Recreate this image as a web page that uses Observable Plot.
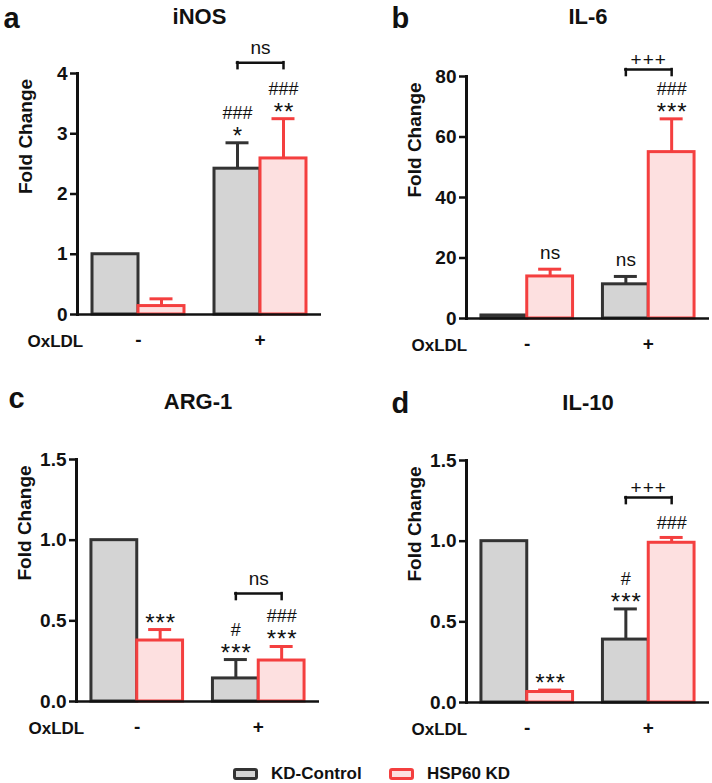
<!DOCTYPE html>
<html>
<head>
<meta charset="utf-8">
<script src="https://cdn.jsdelivr.net/npm/d3@7"></script>
<script src="https://cdn.jsdelivr.net/npm/@observablehq/plot@0.6"></script>
<style>
  body { margin: 0; background: #fff; font-family: "Liberation Sans", Arial, sans-serif; }
  #fig { position: relative; width: 712px; height: 783px; overflow: hidden; background: #fff; }
  #fig svg { position: absolute; overflow: visible; }
  .legend-item { position: absolute; display: flex; align-items: center; height: 16px; font: bold 17px "Liberation Sans", Arial, sans-serif; color: #111; white-space: nowrap; }
  .swatch { box-sizing: border-box; width: 25px; height: 12px; border: 3px solid; border-radius: 3px; margin-right: 13px; }
</style>
</head>
<body>
<div id="fig"></div>
<script>
// ---------- data ----------
const groups = ["-", "+"];                  // OxLDL treatment
const series = ["KD-Control", "HSP60 KD"];
const panelLetters = ["a", "b", "c", "d"];
const genes = ["iNOS", "IL-6", "ARG-1", "IL-10"];
const xAxisTitle = "OxLDL";
const yAxisTitle = "Fold Change";

const yMax = [4, 80, 1.5, 1.5];
const yTicks = [[0, 1, 2, 3, 4], [0, 20, 40, 60, 80], [0, 0.5, 1, 1.5], [0, 0.5, 1, 1.5]];
const yTickLabels = [["0", "1", "2", "3", "4"], ["0", "20", "40", "60", "80"], ["0.0", "0.5", "1.0", "1.5"], ["0.0", "0.5", "1.0", "1.5"]];

// means and error (SEM) per OxLDL group ["-", "+"]
const inosControl = [1.00, 2.42],  inosControlErr = [0, 0.43];
const inosKD      = [0.14, 2.59],  inosKDErr      = [0.12, 0.66];
const il6Control  = [1.0, 11.3],   il6ControlErr  = [0, 2.6];
const il6KD       = [13.9, 55.0],  il6KDErr       = [2.4, 11.0];
const arg1Control = [1.00, 0.143], arg1ControlErr = [0, 0.117];
const arg1KD      = [0.378, 0.254],arg1KDErr      = [0.068, 0.087];
const il10Control = [1.00, 0.39],  il10ControlErr = [0, 0.19];
const il10KD      = [0.065, 0.99], il10KDErr      = [0.012, 0.033];

// significance marks per bar, order: [- control, - KD, + control, + KD]; lines listed bottom to top
const inosNotes = [[], [], ["*", "###"], ["**", "###"]];
const il6Notes  = [[], ["ns"], ["ns"], ["***", "###"]];
const arg1Notes = [[], ["***"], ["***", "#"], ["***", "###"]];
const il10Notes = [[], ["***"], ["***", "#"], ["###"]];

// comparison bracket between the two bars of the "+" group
const bracketGroup = ["+", "+", "+", "+"];
const bracketLabel = ["ns", "+++", "ns", "+++"];
const bracketLevel = [4.18, 82.3, 0.669, 1.27];

const controlMeans = [inosControl, il6Control, arg1Control, il10Control];
const controlErrs  = [inosControlErr, il6ControlErr, arg1ControlErr, il10ControlErr];
const kdMeans = [inosKD, il6KD, arg1KD, il10KD];
const kdErrs  = [inosKDErr, il6KDErr, arg1KDErr, il10KDErr];
const notes = [inosNotes, il6Notes, arg1Notes, il10Notes];

// ---------- styles / layout ----------
const fills   = ["#d4d4d4", "#fde0e0"];
const strokes = ["#333333", "#f43f3f"];
const ink = "#111";
const PI = 0.246, PO = 0.123;
const FONT = "Liberation Sans, Arial, Helvetica, sans-serif";
const layout = [
  {left: 0,   top: 0,   width: 356, height: 360, ml: 77,  mr: 35, mt: 73,  mb: 46, letter: [3, 27],   titleBase: 23,  oxDx: -50},
  {left: 356, top: 0,   width: 356, height: 360, ml: 110, mr: 3,  mt: 76,  mb: 42, letter: [391, 27], titleBase: 23,  oxDx: -55},
  {left: 0,   top: 360, width: 356, height: 380, ml: 76,  mr: 37, mt: 99,  mb: 39, letter: [8, 407],  titleBase: 408, oxDx: -48},
  {left: 356, top: 360, width: 356, height: 380, ml: 110, mr: 3,  mt: 100, mb: 38, letter: [391, 412],titleBase: 409, oxDx: -55}
];

function drawPanel(i) {
  const L = layout[i];
  const innerW = L.width - L.ml - L.mr;
  const innerH = L.height - L.mt - L.mb;
  const bw = innerW * (1 - PI) / (2 - PI + 2 * PO);
  const q = bw / 4;
  const ppu = innerH / yMax[i];

  const rows = [];
  groups.forEach((g, gi) => series.forEach((s, si) => {
    const value = (si === 0 ? controlMeans : kdMeans)[i][gi];
    const err = (si === 0 ? controlErrs : kdErrs)[i][gi];
    rows.push({group: g, series: s, si, value, err, top: value + err, notes: notes[i][gi * 2 + si]});
  }));

  const marks = [];
  // bars
  series.forEach((s, si) => {
    const data = rows.filter(r => r.si === si);
    marks.push(Plot.barY(data, {x: "group", y: "value", dx: si === 0 ? -q : q, insetLeft: q, insetRight: q,
      fill: fills[si], stroke: strokes[si], strokeWidth: 3}));
  });
  // error bars
  series.forEach((s, si) => {
    const data = rows.filter(r => r.si === si && r.err > 0);
    const dx = si === 0 ? -q : q;
    marks.push(Plot.ruleX(data, {x: "group", y1: "value", y2: "top", dx, stroke: strokes[si], strokeWidth: 3}));
    marks.push(Plot.tickY(data, {x: "group", y: "top", dx, insetLeft: (bw - 23) / 2, insetRight: (bw - 23) / 2,
      stroke: strokes[si], strokeWidth: 3}));
  });
  // significance annotations
  rows.forEach(r => {
    if (!r.notes.length) return;
    const first = r.notes[0];
    const off0 = first.startsWith("*") ? -1 : first.startsWith("#") ? 8 : 10;
    r.notes.forEach((line, k) => {
      const star = line.startsWith("*");
      marks.push(Plot.text([{group: r.group, y: r.top, label: line}], {
        x: "group", y: "y", text: "label",
        dx: (r.si === 0 ? -q : q) + (star ? 0.5 : 0), dy: -(off0 + 25 * k),
        lineAnchor: "bottom", fontSize: star ? 24 : line === "ns" ? 19 : 18, fill: ink
      }));
    });
  });
  // bracket
  const b = [{group: bracketGroup[i], level: bracketLevel[i], low: bracketLevel[i] - 6 / ppu, label: bracketLabel[i]}];
  marks.push(Plot.ruleY(b, {x1: "group", x2: "group", y: "level", insetLeft: q, insetRight: q, stroke: ink, strokeWidth: 2.5, strokeLinecap: "square"}));
  marks.push(Plot.ruleX(b, {x: "group", y1: "level", y2: "low", dx: -q, stroke: ink, strokeWidth: 2.5, strokeLinecap: "square"}));
  marks.push(Plot.ruleX(b, {x: "group", y1: "level", y2: "low", dx: q, stroke: ink, strokeWidth: 2.5, strokeLinecap: "square"}));
  marks.push(Plot.text(b, {x: "group", y: "level", text: "label", dy: bracketLabel[i] === "ns" ? -9 : -4,
    lineAnchor: "bottom", fontSize: 19, fill: ink}));

  // axes
  marks.push(Plot.frame({anchor: "left", stroke: ink, strokeWidth: 3}));
  marks.push(Plot.ruleY([0], {stroke: ink, strokeWidth: 2.5}));
  marks.push(Plot.axisY({ticks: yTicks[i], tickFormat: d => yTickLabels[i][yTicks[i].indexOf(d)],
    tickSize: 7, tickPadding: 3, fontSize: 19, fontWeight: "bold", strokeWidth: 2.5, color: ink, label: null}));
  marks.push(Plot.axisX({tickSize: 0, tickPadding: 18, fontSize: 19, fontWeight: "bold", color: ink, label: null}));
  marks.push(Plot.text([xAxisTitle], {frameAnchor: "bottom-left", dx: L.oxDx, dy: 32, textAnchor: "start",
    lineAnchor: "bottom", fontSize: 17, fontWeight: "bold", fill: ink}));
  marks.push(Plot.text([yAxisTitle], {frameAnchor: "left", rotate: -90, dx: -52, fontSize: 19, fontWeight: "bold", fill: ink}));
  // title and panel letter
  marks.push(Plot.text([genes[i]], {frameAnchor: "top", dy: L.titleBase - (L.top + L.mt), lineAnchor: "bottom",
    fontSize: 22, fontWeight: "bold", fill: ink}));
  marks.push(Plot.text([panelLetters[i]], {frameAnchor: "top-left", dx: L.letter[0] - (L.left + L.ml), dy: L.letter[1] - (L.top + L.mt),
    textAnchor: "start", lineAnchor: "bottom", fontSize: 29, fontWeight: "bold", fill: ink}));

  const svg = Plot.plot({
    width: L.width, height: L.height,
    marginLeft: L.ml, marginRight: L.mr, marginTop: L.mt, marginBottom: L.mb,
    style: {fontFamily: FONT, background: "transparent", overflow: "visible"},
    x: {domain: groups, paddingInner: PI, paddingOuter: PO, round: false},
    y: {domain: [0, yMax[i]]},
    marks
  });
  svg.style.left = L.left + "px";
  svg.style.top = L.top + "px";
  svg.querySelectorAll("text").forEach(t => {
    if (/^\*+$/.test(t.textContent)) t.style.letterSpacing = "1px";
    if (/^\++$/.test(t.textContent)) t.style.letterSpacing = "1px";
  });
  return svg;
}

const fig = document.getElementById("fig");
for (let i = 0; i < 4; i++) fig.appendChild(drawPanel(i));

// legend
const legendLeft = [233, 389];
series.forEach((s, si) => {
  const item = document.createElement("div");
  item.className = "legend-item";
  item.style.left = legendLeft[si] + "px";
  item.style.top = "766px";
  const sw = document.createElement("span");
  sw.className = "swatch";
  sw.style.background = fills[si];
  sw.style.borderColor = strokes[si];
  item.appendChild(sw);
  item.appendChild(document.createTextNode(s));
  fig.appendChild(item);
});
</script>
</body>
</html>
